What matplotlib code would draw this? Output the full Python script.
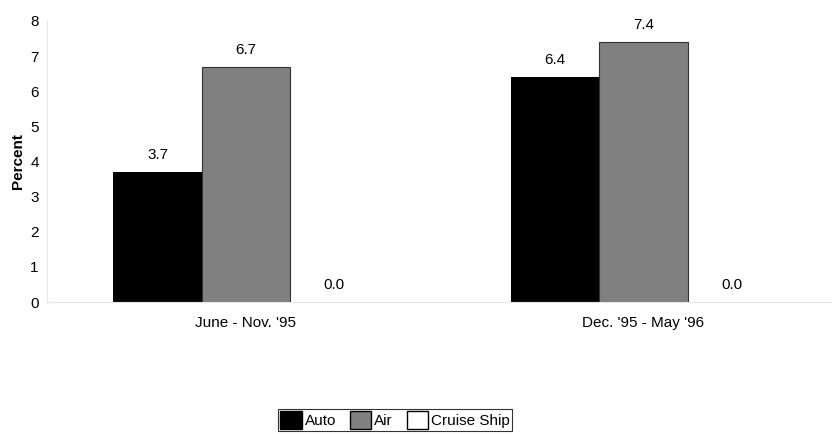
import matplotlib.pyplot as plt
from matplotlib.patches import Patch
import numpy as np

plt.rcParams['font.family'] = ['Liberation Sans', 'DejaVu Sans']

periods = ["June - Nov. '95", "Dec. '95 - May '96"]
series = ["Auto", "Air", "Cruise Ship"]
auto = [3.7, 6.4]
air = [6.7, 7.4]
cruise = [0.0, 0.0]

colors = ["#000000", "#808080", "#ffffff"]
edges = ["#000000", "#333333", "#000000"]
fs = 11

fig = plt.figure(figsize=(8.32, 4.34), dpi=100)
ax = fig.add_axes([47 / 832, 132 / 434, 785 / 832, 281 / 434])

x = np.arange(len(periods))
w = 0.222
for k, vals in enumerate([auto, air, cruise]):
    pos = x + (k - 1) * w
    lw = 0.8 if k == 1 else 0
    ax.bar(pos, vals, width=w, color=colors[k], edgecolor=edges[k], linewidth=lw)
    for p, v in zip(pos, vals):
        ax.annotate(f"{v:.1f}", (p, v), xytext=(0, 7), textcoords="offset points",
                    ha="center", va="bottom", fontsize=fs)

ax.set_xlim(-0.5, 1.474)
ax.set_ylim(0, 8)
ax.set_yticks(range(0, 9))
ax.set_xticks(x)
ax.set_xticklabels(periods)
ax.tick_params(length=0, labelsize=fs, pad=6)
ax.tick_params(axis='x', pad=10)
ax.set_ylabel("Percent", fontsize=fs, fontweight="bold", labelpad=4)

for s in ["top", "right"]:
    ax.spines[s].set_visible(False)
for s in ["left", "bottom"]:
    ax.spines[s].set_color("#e6e6e6")
    ax.spines[s].set_linewidth(0.8)

handles = [Patch(facecolor=c, edgecolor="#000000", linewidth=1.0) for c in colors]
leg = fig.legend(handles, series, loc="center", bbox_to_anchor=(395 / 832, 1 - 420 / 434),
                 ncol=3, fontsize=fs, frameon=True, fancybox=False,
                 handlelength=1.4, handleheight=1.4, handletextpad=0.2,
                 columnspacing=0.9, borderpad=0.15, borderaxespad=0)
leg.get_frame().set_edgecolor("#000000")
leg.get_frame().set_linewidth(0.8)

fig.savefig("out.png", dpi=100)
